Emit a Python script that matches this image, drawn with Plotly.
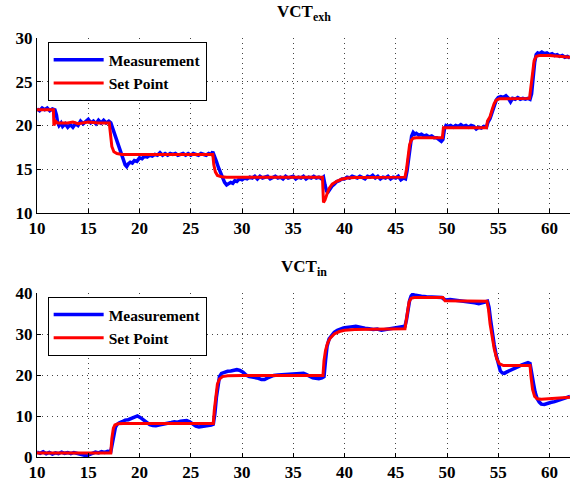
import plotly.graph_objects as go

# ---------------- VCT_exh (top) ----------------
t_exh_meas = [10.0, 10.25, 10.5, 10.75, 11.0, 11.25, 11.5, 11.75, 11.9, 12.0, 12.15, 12.35, 12.5, 12.75,
              13.0, 13.25, 13.5, 13.75, 14.0, 14.25, 14.5, 14.75, 15.0, 15.25, 15.5, 15.75, 16.0, 16.25,
              16.5, 16.75, 17.0, 17.2, 17.4, 17.6, 17.8, 18.0, 18.2, 18.4, 18.6, 18.75, 18.9, 19.1, 19.3,
              19.5, 19.75, 20.0, 20.25, 20.5, 20.75, 21.0, 21.25, 21.5, 21.75, 22.0, 22.25, 22.5, 22.75,
              23.0, 23.25, 23.5, 23.75, 24.0, 24.25, 24.5, 24.75, 25.0, 25.25, 25.5, 25.75, 26.0, 26.25,
              26.5, 26.75, 27.0, 27.15, 27.3, 27.5, 27.7, 27.9, 28.1, 28.3, 28.5, 28.7, 28.9, 29.1, 29.3,
              29.5, 29.75, 30.0, 30.25, 30.5, 30.75, 31.0, 31.25, 31.5, 31.75, 32.0, 32.25, 32.5, 32.75,
              33.0, 33.25, 33.5, 33.75, 34.0, 34.25, 34.5, 34.75, 35.0, 35.25, 35.5, 35.75, 36.0, 36.25,
              36.5, 36.75, 37.0, 37.25, 37.5, 37.75, 37.95, 38.1, 38.25, 38.4, 38.6, 38.8, 39.0, 39.25,
              39.5, 39.75, 40.0, 40.25, 40.5, 40.75, 41.0, 41.25, 41.5, 41.75, 42.0, 42.25, 42.5, 42.75,
              43.0, 43.25, 43.5, 43.75, 44.0, 44.25, 44.5, 44.75, 45.0, 45.25, 45.5, 45.75, 45.95, 46.1,
              46.25, 46.4, 46.55, 46.7, 46.85, 47.0, 47.25, 47.5, 47.75, 48.0, 48.25, 48.5, 48.75, 49.0,
              49.25, 49.45, 49.6, 49.75, 49.9, 50.1, 50.35, 50.6, 50.85, 51.1, 51.35, 51.6, 51.85, 52.1,
              52.35, 52.6, 52.85, 53.1, 53.35, 53.6, 53.85, 54.0, 54.2, 54.4, 54.6, 54.8, 55.0, 55.25,
              55.5, 55.75, 56.0, 56.2, 56.4, 56.65, 56.9, 57.15, 57.4, 57.65, 57.9, 58.1, 58.25, 58.4,
              58.55, 58.7, 58.85, 59.0, 59.25, 59.5, 59.75, 60.0, 60.25, 60.5, 60.75, 61.0, 61.25, 61.5,
              61.75, 62.0]
exh_meas = [21.9, 21.7, 22.0, 21.8, 22.0, 21.7, 21.9, 21.8, 21.2, 20.4, 20.0, 20.3, 19.9, 20.2,
            19.8, 20.1, 19.8, 20.2, 20.0, 20.5, 20.2, 20.4, 20.7, 20.3, 20.5, 20.2, 20.6, 20.3,
            20.6, 20.3, 20.5, 20.3, 19.6, 18.9, 18.1, 17.4, 16.7, 16.1, 15.5, 15.3, 15.6, 15.8, 15.7,
            16.0, 15.9, 16.3, 16.2, 16.5, 16.4, 16.6, 16.5, 16.7, 16.6, 16.9, 16.6, 16.8, 16.6,
            16.8, 16.7, 16.8, 16.6, 16.7, 16.8, 16.6, 16.8, 16.6, 16.8, 16.7, 16.6, 16.8, 16.7,
            16.6, 16.8, 16.7, 17.0, 16.6, 15.9, 15.2, 14.6, 14.0, 13.5, 13.2, 13.4, 13.5, 13.4, 13.7,
            13.6, 13.9, 13.8, 14.0, 13.9, 14.1, 14.0, 14.2, 13.9, 14.2, 14.0, 14.1, 14.2, 13.9,
            14.1, 14.2, 14.0, 14.1, 13.9, 14.2, 14.0, 14.1, 14.2, 13.9, 14.1, 14.0, 14.2, 13.9,
            14.1, 14.0, 14.2, 14.0, 14.1, 13.9, 14.1, 13.2, 12.5, 12.4, 12.8, 13.1, 13.3, 13.6,
            13.7, 13.9, 13.9, 14.1, 14.0, 14.2, 14.1, 14.0, 14.2, 14.1, 13.9, 14.2, 14.1, 14.3,
            14.0, 14.2, 13.9, 14.1, 14.0, 14.2, 13.9, 14.1, 14.0, 14.2, 13.8, 14.0, 13.9, 14.8,
            16.3, 17.8, 18.8, 19.2, 19.0, 19.1, 18.9, 19.0, 18.8, 18.9, 18.7, 18.8, 18.6, 18.6,
            18.4, 18.2, 18.4, 19.6, 20.0, 19.9, 20.0, 19.8, 20.0, 19.9, 20.1, 19.9, 20.0, 19.8,
            20.0, 19.9, 19.6, 19.8, 19.7, 19.9, 19.8, 20.4, 20.8, 21.6, 22.4, 22.9, 23.2, 23.3,
            23.2, 23.4, 23.1, 22.7, 23.1, 23.0, 23.2, 23.0, 23.1, 23.0, 23.1, 23.0, 23.6, 25.5,
            27.2, 28.1, 28.3, 28.2, 28.4, 28.2, 28.3, 28.1, 28.2, 28.0, 28.1, 27.9, 28.0, 27.8,
            27.9, 27.7]

t_exh_sp = [10.0, 11.6, 11.65, 11.8, 12.0, 13.0, 13.5, 14.0, 15.0, 16.0, 17.05, 17.15, 17.3, 17.5,
            17.8, 18.3, 27.15, 27.25, 27.4, 27.6, 28.0, 28.5, 37.85, 37.95, 38.1, 38.3, 38.5, 38.8,
            39.2, 39.7, 40.3, 41.0, 45.9, 46.05, 46.2, 46.35, 46.5, 46.7, 47.0, 49.55, 49.65, 53.85,
            53.95, 54.2, 54.4, 54.6, 54.8, 55.1, 58.05, 58.2, 58.35, 58.5, 58.7, 59.0, 60.0, 62.0]
exh_sp = [21.8, 21.8, 20.0, 20.5, 20.3, 20.3, 20.4, 20.2, 20.4, 20.3, 20.3, 19.0, 17.6, 17.0,
          16.8, 16.7, 16.7, 15.5, 14.7, 14.3, 14.15, 14.1, 14.1, 11.2, 11.5, 12.2, 12.8, 13.3,
          13.6, 13.85, 14.0, 14.05, 14.1, 15.0, 16.6, 17.8, 18.3, 18.55, 18.6, 18.6, 19.75, 19.75,
          20.5, 21.0, 21.8, 22.5, 22.9, 23.05, 23.1, 24.5, 26.3, 27.4, 27.9, 28.0, 28.0, 27.8]

# ---------------- VCT_in (bottom) ----------------
t_in_meas = [10.0, 10.3, 10.6, 10.9, 11.2, 11.5, 11.8, 12.1, 12.4, 12.7, 13.0, 13.3, 13.6, 13.9, 14.2,
             14.5, 14.8, 15.1, 15.4, 15.7, 16.0, 16.3, 16.6, 16.9, 17.2, 17.35, 17.5, 17.65, 17.8, 18.0,
             18.3, 18.6, 18.9, 19.2, 19.5, 19.8, 20.1, 20.4, 20.7, 21.0, 21.3, 21.6, 21.9, 22.2, 22.5,
             22.8, 23.1, 23.4, 23.7, 24.0, 24.3, 24.6, 24.9, 25.2, 25.5, 25.8, 26.1, 26.4, 26.7, 27.0,
             27.2, 27.35, 27.5, 27.65, 27.8, 28.0, 28.3, 28.6, 28.9, 29.2, 29.5, 29.8, 30.1, 30.4, 30.7,
             31.0, 31.3, 31.6, 31.9, 32.2, 32.5, 32.8, 33.1, 33.5, 34.0, 34.5, 35.0, 35.5, 36.0, 36.3,
             36.6, 36.9, 37.2, 37.5, 37.8, 38.0, 38.15, 38.3, 38.5, 38.7, 39.0, 39.3, 39.6, 39.9, 40.2,
             40.5, 40.8, 41.1, 41.4, 41.7, 42.0, 42.4, 42.8, 43.2, 43.6, 44.0, 44.4, 44.8, 45.2, 45.6,
             45.9, 46.05, 46.2, 46.35, 46.5, 46.65, 46.8, 47.1, 47.5, 48.0, 48.5, 49.0, 49.5, 49.7,
             49.9, 50.3, 50.7, 51.1, 51.5, 51.9, 52.3, 52.7, 53.1, 53.4, 53.7, 53.95, 54.1, 54.25,
             54.4, 54.6, 54.8, 55.0, 55.2, 55.4, 55.6, 55.8, 56.1, 56.4, 56.7, 57.0, 57.3, 57.6, 57.9,
             58.1, 58.3, 58.45, 58.6, 58.8, 59.0, 59.2, 59.5, 59.8, 60.1, 60.5, 60.9, 61.3, 61.7, 62.0]
in_meas = [1.2, 0.9, 1.3, 0.8, 1.1, 0.7, 1.0, 0.8, 1.2, 0.9, 1.1, 0.8, 1.1, 0.9, 0.7,
           0.4, 0.3, 0.6, 0.9, 1.2, 1.0, 1.3, 1.1, 1.4, 1.3, 3.0, 5.5, 7.2, 7.9, 8.3,
           8.6, 9.0, 9.1, 9.4, 9.7, 10.0, 9.6, 9.0, 8.3, 7.9, 7.7, 7.6, 7.8, 7.9, 8.2,
           8.3, 8.4, 8.6, 8.5, 8.7, 8.8, 8.9, 8.6, 8.0, 7.5, 7.3, 7.4, 7.6, 7.7, 7.8,
           8.0, 10.5, 14.5, 17.8, 19.6, 20.4, 20.7, 20.9, 21.0, 21.1, 21.3, 21.1, 20.7, 20.0, 19.6,
           19.5, 19.4, 19.2, 18.9, 18.9, 19.3, 19.7, 19.9, 20.0, 20.1, 20.2, 20.3, 20.4, 20.4, 20.1,
           19.6, 19.3, 19.2, 19.1, 19.3, 19.6, 23.5, 27.0, 28.8, 29.6, 30.4, 30.9, 31.3, 31.5, 31.6,
           31.6, 31.8, 31.9, 31.7, 31.5, 31.4, 31.3, 31.1, 31.2, 30.9, 31.1, 31.3, 31.5, 31.6, 31.8,
           31.9, 33.5, 36.0, 38.2, 39.3, 39.7, 39.5, 39.3, 39.2, 39.1, 39.0, 38.9, 38.9, 38.5,
           38.3, 38.4, 38.3, 38.2, 38.1, 38.0, 37.8, 37.6, 37.4, 37.5, 37.8, 38.0, 36.5, 33.5,
           30.5, 27.5, 24.8, 22.5, 21.0, 20.5, 20.4, 20.7, 21.0, 21.4, 21.8, 22.1, 22.5, 22.8, 23.0,
           22.8, 20.5, 17.8, 15.8, 14.2, 13.4, 12.9, 12.8, 13.1, 13.3, 13.5, 13.8, 14.1, 14.5, 14.8]

t_in_sp = [10.0, 17.2, 17.3, 17.45, 17.6, 17.9, 18.4, 27.2, 27.3, 27.45, 27.6, 27.8, 28.1, 28.6,
           30.0, 37.9, 38.0, 38.15, 38.35, 38.6, 39.0, 39.5, 40.0, 41.0, 45.9, 46.0, 46.15, 46.3,
           46.5, 46.8, 49.6, 49.8, 53.9, 54.05, 54.2, 54.4, 54.6, 54.85, 55.1, 55.5, 58.1, 58.2,
           58.35, 58.55, 58.8, 59.2, 60.0, 62.0]
in_sp = [1.0, 1.0, 4.5, 7.0, 7.8, 8.1, 8.2, 8.2, 11.5, 15.5, 17.8, 19.0, 19.6, 19.8,
         19.9, 19.9, 23.5, 26.0, 27.8, 29.0, 30.0, 30.6, 30.9, 31.1, 31.3, 33.0, 36.0, 37.8,
         38.7, 38.9, 38.9, 38.1, 38.0, 36.0, 32.5, 29.0, 26.5, 24.0, 22.8, 22.3, 22.3, 19.5,
         16.5, 14.8, 14.2, 14.1, 14.2, 14.6]

x_ticks = [10, 15, 20, 25, 30, 35, 40, 45, 50, 55, 60]
exh_ticks = [10, 15, 20, 25, 30]
in_ticks = [0, 10, 20, 30, 40]
series_names = ["Measurement", "Set Point"]
titles = ["VCT<sub>exh</sub>", "VCT<sub>in</sub>"]

BLUE = "#0000FF"
RED = "#FF0000"
FONT = "Liberation Serif"

fig = go.Figure()
fig.add_trace(go.Scatter(x=t_exh_meas, y=exh_meas, mode="lines", name=series_names[0],
                         line=dict(color=BLUE, width=3.5), xaxis="x", yaxis="y", legend="legend"))
fig.add_trace(go.Scatter(x=t_exh_sp, y=exh_sp, mode="lines", name=series_names[1],
                         line=dict(color=RED, width=3), xaxis="x", yaxis="y", legend="legend"))
fig.add_trace(go.Scatter(x=t_in_meas, y=in_meas, mode="lines", name=series_names[0],
                         line=dict(color=BLUE, width=3.5), xaxis="x2", yaxis="y2", legend="legend2"))
fig.add_trace(go.Scatter(x=t_in_sp, y=in_sp, mode="lines", name=series_names[1],
                         line=dict(color=RED, width=3), xaxis="x2", yaxis="y2", legend="legend2"))

tickfont = dict(family=FONT, size=17, color="black", weight="bold")
common_x = dict(range=[10, 62], tickvals=x_ticks, showgrid=True, gridcolor="#444",
                griddash="1px,4px", gridwidth=1, showline=True, linecolor="black", linewidth=1,
                ticks="inside", ticklen=4, tickcolor="black", zeroline=False, tickfont=tickfont,
                mirror=False, automargin=False)
common_y = dict(showgrid=True, gridcolor="#444", griddash="1px,4px", gridwidth=1, showline=True,
                linecolor="black", linewidth=1, ticks="inside", ticklen=4, tickcolor="black",
                zeroline=False, tickfont=tickfont, mirror=False, automargin=False)

top_lo = 244 / 419
bot_hi = 164 / 419

legend_style = dict(font=dict(family=FONT, size=15.5, color="black", weight="bold"),
                    bgcolor="white", bordercolor="black", borderwidth=1, xanchor="left",
                    yanchor="top", tracegroupgap=0, itemwidth=50)

fig.update_layout(
    width=577, height=485,
    margin=dict(l=37, r=7, t=38, b=28, autoexpand=False),
    paper_bgcolor="white", plot_bgcolor="white",
    xaxis=dict(domain=[0, 1], anchor="y", **common_x),
    yaxis=dict(domain=[top_lo, 1], anchor="x", range=[10, 30], tickvals=exh_ticks, **common_y),
    xaxis2=dict(domain=[0, 1], anchor="y2", **common_x),
    yaxis2=dict(domain=[0, bot_hi], anchor="x2", range=[0, 40], tickvals=in_ticks, **common_y),
    legend=dict(x=0.02, y=0.99, **legend_style),
    legend2=dict(x=0.02, y=0.382, **legend_style),
    annotations=[
        dict(text="<b>" + titles[0] + "</b>", x=0.5, y=1.0 + 12 / 419, xref="paper", yref="paper",
             xanchor="center", yanchor="bottom", showarrow=False,
             font=dict(family=FONT, size=17, color="black")),
        dict(text="<b>" + titles[1] + "</b>", x=0.5, y=(457 - 281) / 419, xref="paper", yref="paper",
             xanchor="center", yanchor="bottom", showarrow=False,
             font=dict(family=FONT, size=17, color="black")),
    ],
)

fig.write_html("out.html", config={"displayModeBar": False},
               post_script="document.body.style.margin='0';")
